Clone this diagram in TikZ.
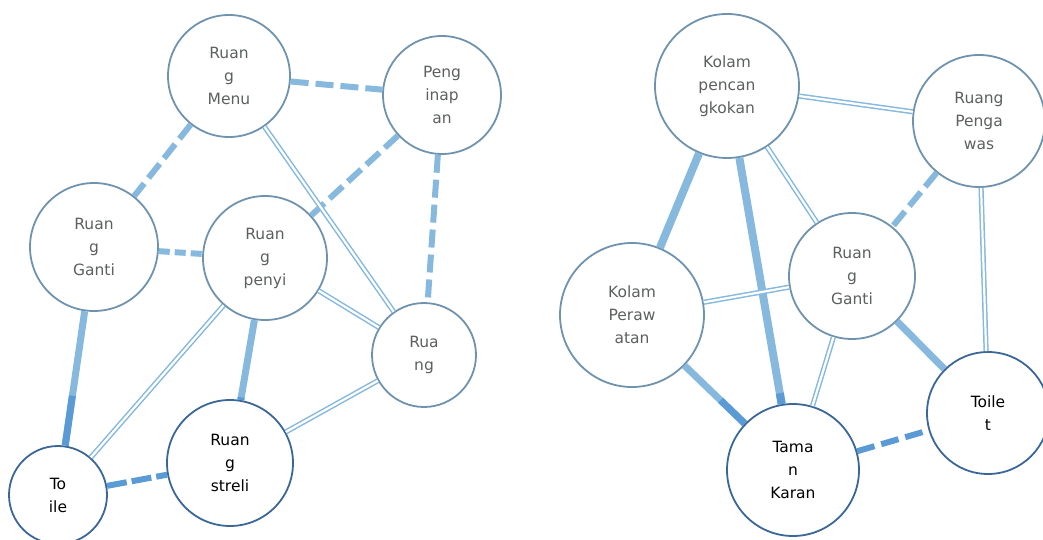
\documentclass[tikz,border=0pt]{standalone}
\usepackage{fontspec}
\setmainfont{DejaVu Sans}
\usetikzlibrary{calc}
\definecolor{rimtop}{HTML}{6F93AF}
\definecolor{rimlow}{HTML}{3A6798}
\definecolor{linklight}{HTML}{86B9DD}
\definecolor{linkdark}{HTML}{5B9BD5}
\definecolor{txtgray}{HTML}{5C615E}
\tikzset{
    room/.style={circle,draw=rimtop,line width=1.8pt,fill=white,minimum size=#1,inner sep=0pt,align=center,text=txtgray,font=\fontsize{15.5}{23}\selectfont},
    lowroom/.style={room=#1,draw=rimlow,text=black},
    dashlink/.style={line width=6pt,linklight,dash pattern=on 18pt off 7pt},
    dotlink/.style={line width=6pt,linklight,dash pattern=on 11pt off 5pt},
    dbllink/.style={draw=linklight,line width=1.5pt,double=white,double distance=2.2pt},
    fatlink/.style={line width=7pt,linklight},
}

\begin{document}
\begin{tikzpicture}[x=1pt,y=-1pt]
    \useasboundingbox (0,0) rectangle (1043,540);
    \node[room=122] (menu) at (229,76) {Ruan\\g\\Menu};
    \node[room=118] (inap) at (442,95) {Peng\\inap\\an};
    \node[room=128] (gantiA) at (94,247) {Ruan\\g\\Ganti};
    \node[room=124] (penyi) at (265,258) {Ruan\\g\\penyi};
    \node[room=104] (diA) at (424,355) {Rua\\ng};
    \node[lowroom=126] (streli) at (230,463) {Ruan\\g\\streli};
    \node[lowroom=98] (toiA) at (58,495) {To\\ile};
    \node[room=144] (cangkok) at (727,86) {Kolam\\pencan\\gkokan};
    \node[room=132] (awas) at (979,121) {Ruang\\Penga\\was};
    \node[room=126] (gantiB) at (852,276) {Ruan\\g\\Ganti};
    \node[room=144] (rawat) at (632,315) {Kolam\\Peraw\\atan};
    \node[lowroom=132] (taman) at (793,470) {Tama\\n\\Karan};
    \node[lowroom=122] (toiB) at (988,413) {Toile\\t};

    \draw[dashlink] (menu) -- (inap);
    \draw[dashlink] (menu) -- (gantiA);
    \draw[dashlink] (inap) -- (penyi);
    \draw[dashlink] (inap) -- (diA);
    \draw[dotlink] (gantiA) -- (penyi);
    \draw[dbllink] (menu) -- (diA);
    \draw[dbllink] (penyi) -- (diA);
    \draw[dbllink] (penyi) -- (toiA);
    \draw[dbllink] (diA) -- (streli);
    \draw[fatlink] (gantiA) -- (toiA);
    \draw[fatlink,linkdark] ($(gantiA)!0.6!(toiA)$) -- (toiA);
    \draw[fatlink] (penyi) -- (streli);
    \draw[fatlink,linkdark] ($(penyi)!0.68!(streli)$) -- (streli);
    \draw[dashlink,linkdark,dash pattern=on 20pt off 5pt] (toiA) -- (streli);

    \draw[dbllink] (cangkok) -- (awas);
    \draw[dbllink] (cangkok) -- (gantiB);
    \draw[fatlink,line width=8pt] (cangkok) -- (rawat);
    \draw[fatlink,line width=8pt] (cangkok) -- (taman);
    \draw[fatlink,line width=8pt,linkdark] ($(cangkok)!0.8!(taman)$) -- (taman);
    \draw[dashlink] (awas) -- (gantiB);
    \draw[dbllink] (awas) -- (toiB);
    \draw[dbllink] (rawat) -- (gantiB);
    \draw[fatlink] (rawat) -- (taman);
    \draw[fatlink,linkdark] ($(rawat)!0.55!(taman)$) -- (taman);
    \draw[dbllink] (gantiB) -- (taman);
    \draw[fatlink] (gantiB) -- (toiB);
    \draw[dashlink,linkdark] (taman) -- (toiB);
\end{tikzpicture}
\end{document}
